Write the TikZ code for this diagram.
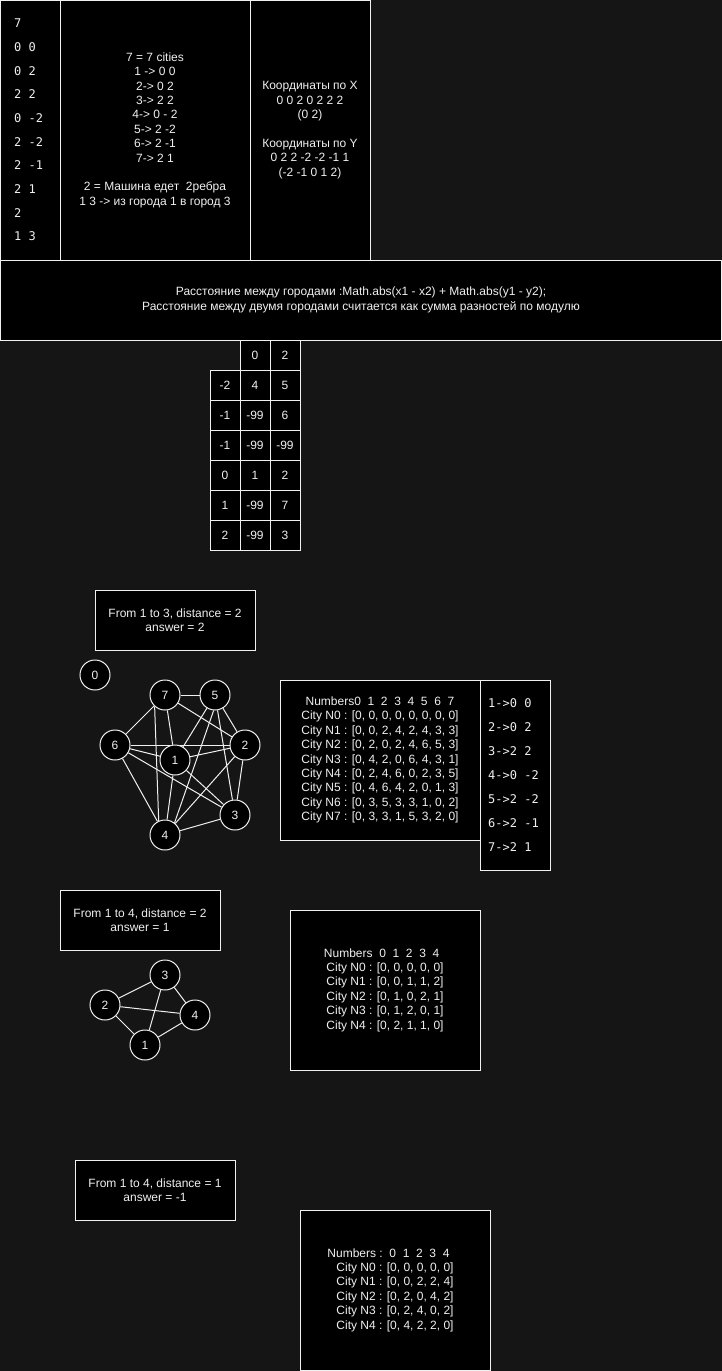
\documentclass[tikz,border=0pt]{standalone}
\usepackage{fontspec}
\setmainfont{Liberation Sans}
\newfontfamily\monofnt{DejaVu Sans Mono}
\definecolor{bgc}{RGB}{21,21,21}
\definecolor{fg}{RGB}{240,240,240}
\pgfdeclarelayer{back}
\pgfdeclarelayer{edges}
\pgfsetlayers{back,edges,main}
\begin{document}
\begin{tikzpicture}[x=1pt,y=-1pt,
  every node/.style={text=fg, font=\fontsize{12}{14.4}\selectfont},
  box/.style={draw=fg, fill=black, line width=1pt, inner sep=0pt, align=center},
  monocol/.style={font=\monofnt\fontsize{12}{23.7}\selectfont, align=left, inner sep=0pt},
  monolist/.style={font=\monofnt\fontsize{12}{24}\selectfont, align=left, inner sep=0pt},
  cell/.style={draw=fg, fill=black, line width=1pt, minimum width=30pt, minimum height=30pt, inner sep=0pt},
  city/.style={circle, draw=fg, fill=black, line width=1pt, minimum size=30pt, inner sep=0pt},
  link/.style={draw=fg, line width=1pt}]
\useasboundingbox (0,0) rectangle (722,1371);
\begin{pgfonlayer}{back}
\fill[bgc] (0,0) rectangle (722,1371);
\end{pgfonlayer}

% top row
\node[box, minimum width=59.5pt, minimum height=259.5pt] (b1) at (30.25,130.25) {};
\node[monocol, anchor=west] (t1) at (14,130) {7\\0 0\\0 2\\2 2\\0 -2\\2 -2\\2 -1\\2 1\\2\\1 3};
\node[box, minimum width=190pt, minimum height=259.5pt] (b2) at (155,130.25)
  {7 = 7 cities\\1 -> 0 0\\2-> 0 2\\3-> 2 2\\4-> 0 - 2\\5-> 2 -2\\6-> 2 -1\\7-> 2 1\\[14.4pt]2 = Машина едет\ \ 2ребра\\1 3 -> из города 1 в город 3};
\node[box, minimum width=120pt, minimum height=259.5pt] (b3) at (310,130.25)
  {Координаты по X\\0 0 2 0 2 2 2\\(0 2)\\[14.4pt]Координаты по Y\\0 2 2 -2 -2 -1 1\\(-2 -1 0 1 2)};
\node[box, minimum width=721pt, minimum height=80pt] (b4) at (361,300)
  {Расстояние между городами :Math.abs(x1 - x2) + Math.abs(y1 - y2);\\Расстояние между двумя городами считается как сумма разностей по модулю};

% table
\node[cell] (h0) at (255,355) {0};
\node[cell] (h2) at (285,355) {2};
\node[cell] (r1a) at (225,385) {-2};  \node[cell] (r1b) at (255,385) {4};   \node[cell] (r1c) at (285,385) {5};
\node[cell] (r2a) at (225,415) {-1};  \node[cell] (r2b) at (255,415) {-99}; \node[cell] (r2c) at (285,415) {6};
\node[cell] (r3a) at (225,445) {-1};  \node[cell] (r3b) at (255,445) {-99}; \node[cell] (r3c) at (285,445) {-99};
\node[cell] (r4a) at (225,475) {0};   \node[cell] (r4b) at (255,475) {1};   \node[cell] (r4c) at (285,475) {2};
\node[cell] (r5a) at (225,505) {1};   \node[cell] (r5b) at (255,505) {-99}; \node[cell] (r5c) at (285,505) {7};
\node[cell] (r6a) at (225,535) {2};   \node[cell] (r6b) at (255,535) {-99}; \node[cell] (r6c) at (285,535) {3};

% example 1
\node[box, minimum width=160pt, minimum height=60pt] (f1) at (175,620) {From 1 to 3, distance = 2\\answer = 2};
\node[city] (a0) at (95,675) {0};
\node[city] (a7) at (165,695) {7};
\node[city] (a5) at (215,695) {5};
\node[city] (a6) at (115,745) {6};
\node[city] (a2) at (245,745) {2};
\node[city] (a1) at (175,760) {1};
\node[city] (a3) at (235,815) {3};
\node[city] (a4) at (165,835) {4};
\begin{pgfonlayer}{edges}
\draw[link] (a7) -- (a5);
\draw[link] (a7) -- (a6);
\draw[link] (a7) -- (a1);
\draw[link] (a7.228) -- (a4.114);
\draw[link] (a7) -- (a2);
\draw[link] (a5) -- (a1);
\draw[link] (a5.265) -- (a4.52);
\draw[link] (a5) -- (a3);
\draw[link] (a5) -- (a2);
\draw[link] (a6) -- (a2);
\draw[link] (a6) -- (a1);
\draw[link] (a6) -- (a3);
\draw[link] (a6) -- (a4);
\draw[link] (a1) -- (a2);
\draw[link] (a1) -- (a3);
\draw[link] (a1) -- (a4);
\draw[link] (a2) -- (a4);
\draw[link] (a2) -- (a3);
\draw[link] (a4) -- (a3);
\end{pgfonlayer}

\node[box, minimum width=200pt, minimum height=160pt] (m1) at (380,760)
  {Numbers0\ \ 1\ \ 2\ \ 3\ \ 4\ \ 5\ \ 6\ \ 7\\City N0 : [0, 0, 0, 0, 0, 0, 0, 0]\\City N1 : [0, 0, 2, 4, 2, 4, 3, 3]\\City N2 : [0, 2, 0, 2, 4, 6, 5, 3]\\City N3 : [0, 4, 2, 0, 6, 4, 3, 1]\\City N4 : [0, 2, 4, 6, 0, 2, 3, 5]\\City N5 : [0, 4, 6, 4, 2, 0, 1, 3]\\City N6 : [0, 3, 5, 3, 3, 1, 0, 2]\\City N7 : [0, 3, 3, 1, 5, 3, 2, 0]};
\node[box, minimum width=70pt, minimum height=190pt] (l1) at (515,775) {};
\node[monolist, anchor=west] (lt) at (488,775) {1->0 0\\2->0 2\\3->2 2\\4->0 -2\\5->2 -2\\6->2 -1\\7->2 1};

% example 2
\node[box, minimum width=160pt, minimum height=60pt] (f2) at (140,920) {From 1 to 4, distance = 2\\answer = 1};
\node[city] (c3) at (165,975) {3};
\node[city] (c2) at (105,1005) {2};
\node[city] (c4) at (195,1015) {4};
\node[city] (c1) at (145,1045) {1};
\begin{pgfonlayer}{edges}
\draw[link] (c2) -- (c3);
\draw[link] (c3) -- (c4);
\draw[link] (c3) -- (c1);
\draw[link] (c2) -- (c4);
\draw[link] (c2) -- (c1);
\draw[link] (c1) -- (c4);
\end{pgfonlayer}
\node[box, minimum width=190pt, minimum height=160pt] (m2) at (385,990)
  {Numbers\ \ 0\ \ 1\ \ 2\ \ 3\ \ 4\kern6.7pt\\City N0 : [0, 0, 0, 0, 0]\\City N1 : [0, 0, 1, 1, 2]\\City N2 : [0, 1, 0, 2, 1]\\City N3 : [0, 1, 2, 0, 1]\\City N4 : [0, 2, 1, 1, 0]};

% example 3
\node[box, minimum width=160pt, minimum height=60pt] (f3) at (155,1190) {From 1 to 4, distance = 1\\answer = -1};
\node[box, minimum width=190pt, minimum height=160pt] (m3) at (395,1290)
  {Numbers :\ \ 0\ \ 1\ \ 2\ \ 3\ \ 4\kern13pt\\City N0 : [0, 0, 0, 0, 0]\\City N1 : [0, 0, 2, 2, 4]\\City N2 : [0, 2, 0, 4, 2]\\City N3 : [0, 2, 4, 0, 2]\\City N4 : [0, 4, 2, 2, 0]};
\end{tikzpicture}
\end{document}
